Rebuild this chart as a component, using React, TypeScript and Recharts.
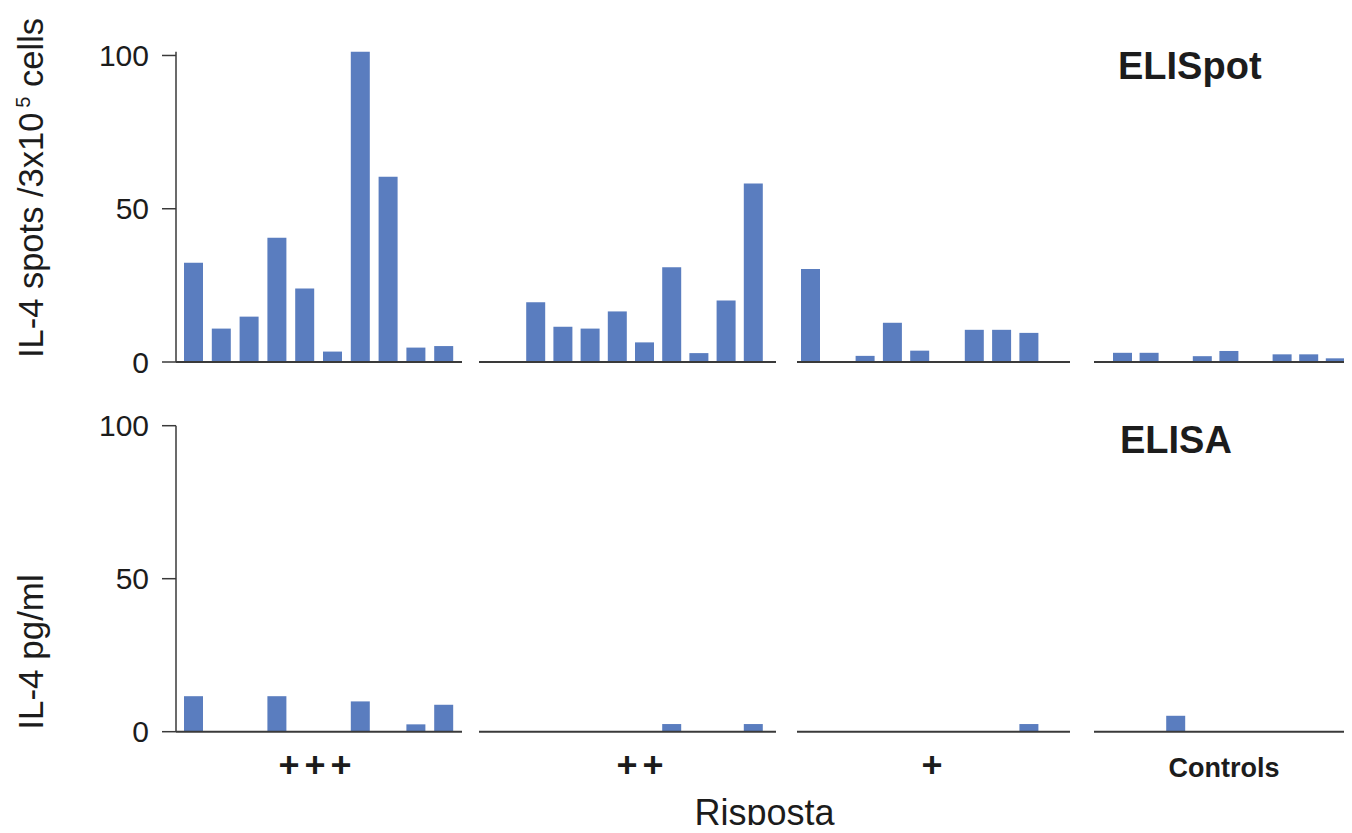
import React from 'react';
import { BarChart, Bar, XAxis, YAxis } from 'recharts';

// patients within each response group (10 slots per group, empty slots = 0)
const slots = ['1', '2', '3', '4', '5', '6', '7', '8', '9', '10'];
const groupNames = ['+++', '++', '+', 'Controls'];

// ELISpot: IL-4 spots / 3x10^5 cells
const elispotStrong = [32.4, 10.9, 14.8, 40.5, 24.0, 3.4, 101.2, 60.4, 4.7, 5.2];
const elispotMedium = [0, 19.5, 11.5, 10.9, 16.5, 6.4, 30.9, 2.9, 20.1, 58.2];
const elispotWeak = [30.3, 0, 2.0, 12.8, 3.7, 0, 10.5, 10.5, 9.5, 0];
const elispotControls = [3.0, 3.0, 0, 1.9, 3.6, 0, 2.5, 2.5, 1.2, 0];

// ELISA: IL-4 pg/ml
const elisaStrong = [11.6, 0, 0, 11.6, 0, 0, 9.9, 0, 2.4, 8.8];
const elisaMedium = [0, 0, 0, 0, 0, 0, 2.5, 0, 0, 2.5];
const elisaWeak = [0, 0, 0, 0, 0, 0, 0, 0, 2.5, 0];
const elisaControls = [0, 0, 5.2, 0, 0, 0, 0, 0, 0, 0];

const yTicks = [0, 50, 100];

const elispotGroups = [elispotStrong, elispotMedium, elispotWeak, elispotControls];
const elisaGroups = [elisaStrong, elisaMedium, elisaWeak, elisaControls];

const FONT = '"Liberation Sans", Arial, Helvetica, sans-serif';
const BAR = '#5a7dbf';
const AXIS = '#3a3a3a';
const TEXT = '#1c1c1c';

// horizontal layout of the four group charts
const layout = [
  { left: 0, width: 462, yAxis: true, padding: { left: 4, right: 4 }, labelCenter: 315, spacing: 5 },
  { left: 479, width: 297, yAxis: false, padding: { left: 16, right: 9 }, labelCenter: 640, spacing: 5 },
  { left: 797, width: 273, yAxis: false, padding: { left: 0, right: 0 }, labelCenter: 932, spacing: 0 },
  { left: 1094, width: 290, yAxis: false, padding: { left: 15, right: 9 }, labelCenter: 1224, spacing: 0 },
];

const topMax = Math.max(100, ...elispotGroups.flat());

const panels = {
  elispot: { top: 0, marginTop: 51.8, plotHeight: 310.2, axisHeight: 24, max: topMax, titleY: 188 },
  elisa: { top: 380, marginTop: 45.7, plotHeight: 306, axisHeight: 60, max: 100, titleY: 272 },
};

const GroupLabel = ({ text, cx, spacing }: any) => (
  <text
    x={cx + spacing / 2}
    y={397}
    textAnchor="middle"
    fontFamily={FONT}
    fontWeight="bold"
    fontSize={text.startsWith('+') ? 36 : 27}
    letterSpacing={spacing}
    fill={TEXT}
  >
    {text}
  </text>
);

const ElispotTitle = ({ cy }: any) => (
  <text
    x={43}
    y={cy}
    transform={`rotate(-90 43 ${cy})`}
    textAnchor="middle"
    fontFamily={FONT}
    fontSize={34.5}
    fill={TEXT}
  >
    <tspan>IL-4 spots /3x10</tspan>
    <tspan dx={5} dy={-13} fontSize={20}>5</tspan>
    <tspan dy={13}> cells</tspan>
  </text>
);

const ElisaTitle = ({ cy }: any) => (
  <text
    x={43}
    y={cy}
    transform={`rotate(-90 43 ${cy})`}
    textAnchor="middle"
    fontFamily={FONT}
    fontSize={35}
    fill={TEXT}
  >
    IL-4 pg/ml
  </text>
);

function GroupChart({ values, index, panel, showLabel, title }: any) {
  const g = layout[index];
  const data = slots.map((s, i) => ({ slot: s, value: values[i] }));
  const height = panel.marginTop + panel.plotHeight + panel.axisHeight;
  return (
    <div style={{ position: 'absolute', left: g.left, top: panel.top }}>
      <BarChart
        width={g.width}
        height={height}
        data={data}
        margin={{ top: panel.marginTop, right: 0, bottom: 0, left: 0 }}
        barSize={19}
      >
        <XAxis
          dataKey="slot"
          tick={false}
          tickLine={false}
          axisLine={{ stroke: AXIS, strokeWidth: 2 }}
          height={panel.axisHeight}
          padding={g.padding}
          label={
            showLabel ? (
              <GroupLabel text={groupNames[index]} cx={g.labelCenter - g.left} spacing={g.spacing} />
            ) : undefined
          }
        />
        <YAxis
          hide={!g.yAxis}
          width={g.yAxis ? 176 : 0}
          domain={[0, panel.max]}
          ticks={yTicks}
          tickSize={14}
          tickMargin={13}
          tick={{ fontSize: 30, fill: TEXT, fontFamily: FONT }}
          tickLine={{ stroke: AXIS, strokeWidth: 1.5 }}
          axisLine={{ stroke: AXIS, strokeWidth: 1.5 }}
          label={g.yAxis ? title : undefined}
        />
        <Bar dataKey="value" fill={BAR} isAnimationActive={false} />
      </BarChart>
    </div>
  );
}

export default function App() {
  return (
    <div
      style={{
        position: 'relative',
        margin: -8,
        width: 1352,
        height: 833,
        overflow: 'hidden',
        background: '#fff',
        fontFamily: FONT,
      }}
    >
      {elispotGroups.map((values, i) => (
        <GroupChart
          key={`elispot-${i}`}
          values={values}
          index={i}
          panel={panels.elispot}
          showLabel={false}
          title={<ElispotTitle cy={panels.elispot.titleY} />}
        />
      ))}
      {elisaGroups.map((values, i) => (
        <GroupChart
          key={`elisa-${i}`}
          values={values}
          index={i}
          panel={panels.elisa}
          showLabel={true}
          title={<ElisaTitle cy={panels.elisa.titleY} />}
        />
      ))}
      <svg
        width={1352}
        height={833}
        style={{ position: 'absolute', left: 0, top: 0, pointerEvents: 'none' }}
      >
        <text x={1118} y={79} fontFamily={FONT} fontWeight="bold" fontSize={38} fill={TEXT}>
          ELISpot
        </text>
        <text x={1120} y={452.5} fontFamily={FONT} fontWeight="bold" fontSize={38} fill={TEXT}>
          ELISA
        </text>
        <text x={764.5} y={825} textAnchor="middle" fontFamily={FONT} fontSize={36} fill={TEXT}>
          Risposta
        </text>
      </svg>
    </div>
  );
}
